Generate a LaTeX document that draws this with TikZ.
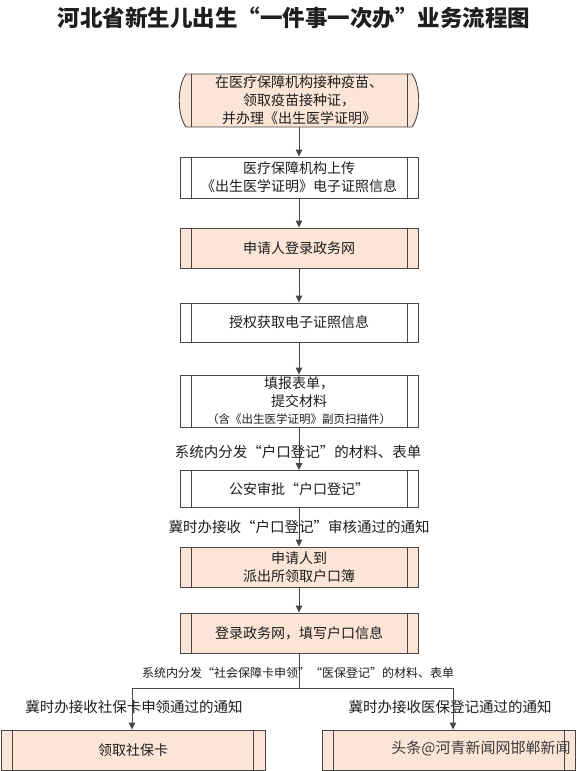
\documentclass[tikz,border=0pt]{standalone}
\usepackage{fontspec}
\setmainfont{Noto Sans CJK SC}
\usetikzlibrary{arrows.meta}
\definecolor{pch}{RGB}{251,229,214}
\definecolor{lc}{RGB}{70,70,70}
\definecolor{tc}{RGB}{30,30,30}
\definecolor{wmc}{RGB}{60,60,60}
\begin{document}
\begin{tikzpicture}[x=1pt,y=-1pt,
  line/.style={draw=lc, line width=0.9pt},
  arr/.style={line, -{Triangle[length=7pt,width=6.5pt]}},
  sidebars/.style={path picture={\draw[lc,line width=0.9pt]
      ([xshift=#1]path picture bounding box.north west) -- ([xshift=#1]path picture bounding box.south west)
      ([xshift=-#1]path picture bounding box.north east) -- ([xshift=-#1]path picture bounding box.south east);}},
  boxbase/.style={draw=lc, line width=0.9pt, minimum width=238pt, minimum height=40pt,
      inner sep=0pt, align=center, font=\fontsize{14}{18}\selectfont, text=tc},
  proc/.style={boxbase, fill=white, sidebars=11pt},
  procp/.style={boxbase, fill=pch, sidebars=11pt},
  lbl/.style={font=\fontsize{14.5}{17}\selectfont, text=tc, inner sep=0pt},
  slbl/.style={font=\fontsize{12}{14}\selectfont, text=tc, inner sep=0pt}
]
\useasboundingbox (0,0) rectangle (586,771);
\fill[white] (0,0) rectangle (586,771);

% title
\node[font=\bfseries\fontsize{22.5}{26}\selectfont, text=tc] (title) at (294,18)
  {河北省新生儿出生“一件事一次办”业务流程图};

% box 1 (terminator)
\filldraw[fill=pch, draw=lc, line width=0.9pt]
  (186,74) -- (412,74) .. controls (421,86) and (421,115) .. (412,127)
  -- (186,127) .. controls (177,115) and (177,86) .. (186,74) -- cycle;
\draw[lc, line width=0.9pt] (191,74) -- (191,127) (407,74) -- (407,127);
\node[inner sep=0pt, minimum width=238pt, minimum height=53pt, align=center,
      font=\fontsize{14}{18}\selectfont, text=tc] (b1) at (299,100.5)
  {在医疗保障机构接种疫苗、\\领取疫苗接种证，\\并办理《出生医学证明》};

\node[proc, minimum height=41pt] (b2) at (299,177.5) {医疗保障机构上传\\《出生医学证明》电子证照信息};
\node[procp] (b3) at (299,248) {申请人登录政务网};
\node[proc, minimum height=39pt] (b4) at (299,322.5) {授权获取电子证照信息};
\node[proc, minimum height=52pt] (b5) at (299,401)
  {填报表单，\\提交材料\\[-1pt]{\fontsize{11.5}{14}\selectfont（含《出生医学证明》副页扫描件）}};
\node[proc, minimum height=37pt] (b6) at (299,489) {公安审批“户口登记”};
\node[procp] (b7) at (299,567) {申请人到\\派出所领取户口簿};
\node[procp] (b8) at (299,633) {登录政务网，填写户口信息};

\node[proc, fill=pch, minimum width=264pt, sidebars=11.5pt] (b9) at (133,750) {领取社保卡};
\node[proc, fill=pch, minimum width=253pt, sidebars=11pt] (b10) at (448.5,750) {};
\node[font=\fontsize{15}{17}\selectfont, text=wmc, inner sep=0pt] (wm) at (481,748) {头条@河青新闻网邯郸新闻};

% connectors
\draw[arr] (b1.south) -- (b2.north);
\draw[arr] (b2.south) -- (b3.north);
\draw[arr] (b3.south) -- (b4.north);
\draw[arr] (b4.south) -- (b5.north);
\draw[arr] (b5.south) -- (b6.north);
\draw[arr] (b6.south) -- (b7.north);
\draw[arr] (b7.south) -- (b8.north);

\coordinate (j) at (299,688);
\coordinate (jl) at (132,688);
\coordinate (jr) at (453,688);
\draw[line] (b8.south) -- (j);
\draw[arr] (j) -- (jl) -- (jl |- b9.north);
\draw[arr] (j) -- (jr) -- (jr |- b10.north);

% labels
\node[lbl] (l1) at (298,452) {系统内分发“户口登记”的材料、表单};
\node[lbl] (l2) at (299,527) {冀时办接收“户口登记”审核通过的通知};
\node[slbl] (l3) at (298,673) {系统内分发“社会保障卡申领”“医保登记”的材料、表单};
\node[lbl] (l4) at (134,707) {冀时办接收社保卡申领通过的通知};
\node[lbl] (l5) at (450,707) {冀时办接收医保登记通过的通知};
\end{tikzpicture}
\end{document}
